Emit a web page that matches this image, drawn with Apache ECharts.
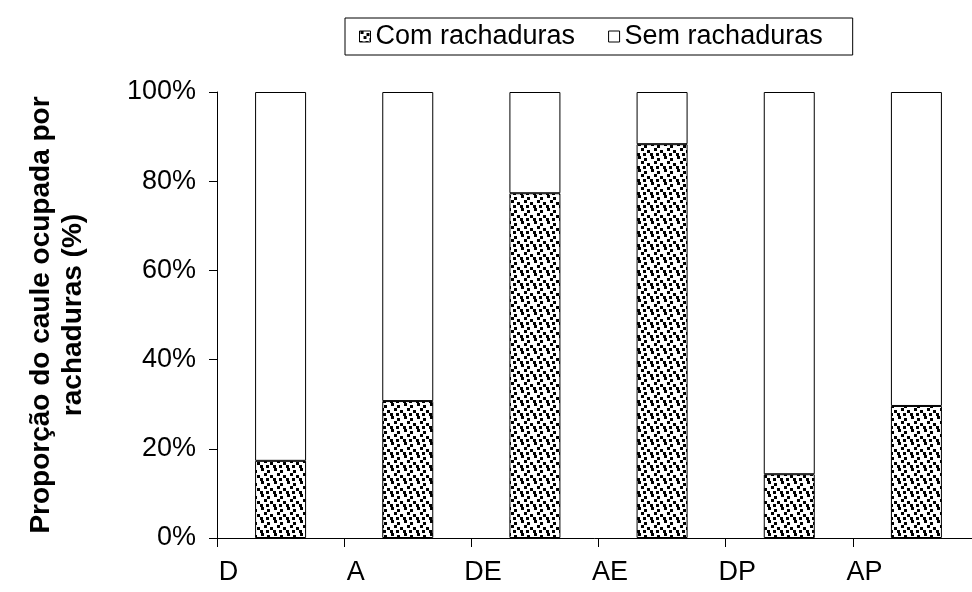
<!DOCTYPE html>
<html>
<head>
<meta charset="utf-8">
<script src="https://cdn.jsdelivr.net/npm/echarts@6/dist/echarts.min.js"></script>
<style>html,body{margin:0;padding:0;background:#fff}#c{width:972px;height:592px}</style>
</head>
<body>
<div id="c"></div>
<script>
const categories = ['D', 'A', 'DE', 'AE', 'DP', 'AP'];
const comRachaduras = [17.3, 30.7, 77.3, 88.3, 14.3, 29.6];
const semRachaduras = comRachaduras.map(v => 100 - v);
const yTicks = ['0%', '20%', '40%', '60%', '80%', '100%'];

// dotted fill pattern
const T = 13;
const pc = document.createElement('canvas');
pc.width = T; pc.height = T;
const g = pc.getContext('2d');
g.fillStyle = '#fff'; g.fillRect(0, 0, T, T);
g.fillStyle = '#000';
[[1,0],[7,2],[4,5],[10,7],[0,10],[6,10]].forEach(([x,y]) => {
  for (const dx of [0, -T]) for (const dy of [0, -T]) g.fillRect(x + dx, y + dy, 3, 3);
});
const pattern = { image: pc, repeat: 'repeat' };

const font = '"Liberation Sans", Arial, sans-serif';
const chart = echarts.init(document.getElementById('c'), null, { renderer: 'canvas' });
chart.setOption({
  animation: false,
  backgroundColor: '#fff',
  grid: { left: 217, top: 92, height: 446, width: 763, containLabel: false, outerBoundsMode: 'none' },
  legend: {
    left: 345, top: 18,
    borderColor: '#000', borderWidth: 1,
    padding: [5, 30, 5, 14],
    itemWidth: 11, itemHeight: 11, itemGap: 33,
    textStyle: { fontFamily: font, fontSize: 27, color: '#000' },
    data: [
      { name: 'Com rachaduras', icon: 'rect', itemStyle: { color: pattern, borderColor: '#000', borderWidth: 1 } },
      { name: 'Sem rachaduras', icon: 'rect', itemStyle: { color: '#fff', borderColor: '#000', borderWidth: 1 } }
    ]
  },
  xAxis: {
    type: 'category',
    data: categories,
    boundaryGap: true,
    axisLine: { lineStyle: { color: '#000', width: 1 } },
    axisTick: { show: true, length: 9, inside: false, alignWithLabel: false, lineStyle: { color: '#000' } },
    axisLabel: { fontFamily: font, fontSize: 27, color: '#000', margin: 21, padding: [0, 104, 0, 0] }
  },
  yAxis: {
    type: 'value', min: 0, max: 100, interval: 20,
    splitLine: { show: false },
    axisLine: { show: true, lineStyle: { color: '#000', width: 1 } },
    axisTick: { show: true, length: 8, inside: false, lineStyle: { color: '#000' } },
    axisLabel: { fontFamily: font, fontSize: 27, color: '#000', margin: 21,
      formatter: v => yTicks[Math.round(v / 20)] }
  },
  graphic: [{
    type: 'text', x: 57, y: 315, rotation: Math.PI / 2,
    style: { text: 'Proporção do caule ocupada por\nrachaduras (%)', fontFamily: font, fontSize: 28,
      fontWeight: 'bold', fill: '#000', align: 'center', verticalAlign: 'middle', lineHeight: 32 }
  }],
  series: [
    { name: 'Com rachaduras', type: 'bar', stack: 's', barWidth: 51, data: comRachaduras,
      itemStyle: { color: pattern, borderColor: '#000', borderWidth: 1 } },
    { name: 'Sem rachaduras', type: 'bar', stack: 's', barWidth: 51, data: semRachaduras,
      itemStyle: { color: '#fff', borderColor: '#000', borderWidth: 1 } }
  ]
});
</script>
</body>
</html>
